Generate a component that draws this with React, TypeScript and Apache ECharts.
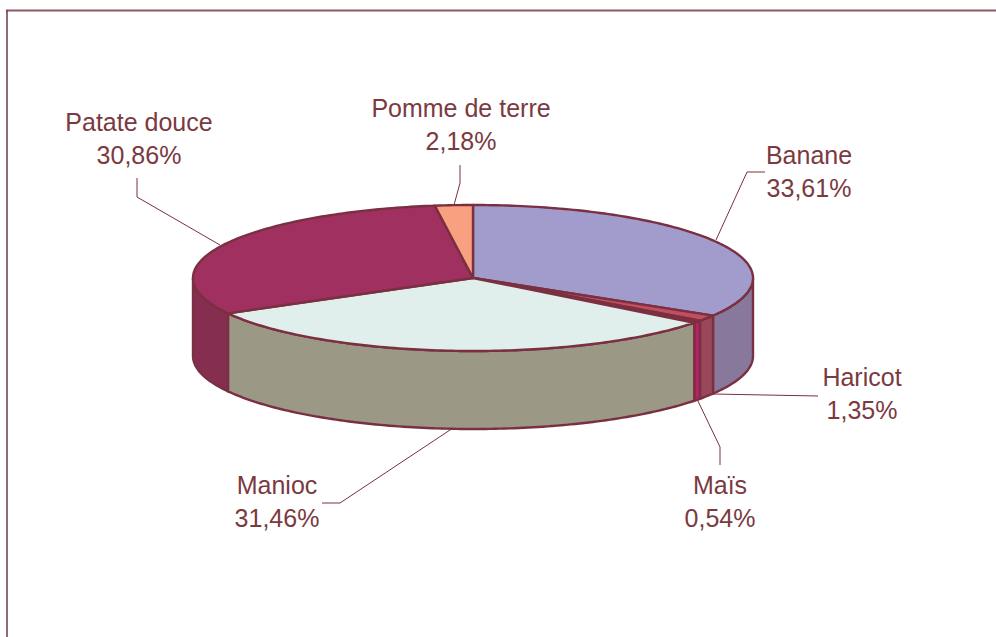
import React, { useEffect, useRef } from "react";
import * as echarts from "echarts";

const categories = ["Banane", "Haricot", "Maïs", "Manioc", "Patate douce", "Pomme de terre"];
const shares = [33.61, 1.35, 0.54, 31.46, 30.86, 2.18];
const topColors = ["#a29ccc", "#c0505f", "#a8205f", "#e0efec", "#a03060", "#f8a080"];
const sideColors = ["#88789c", "#98485a", "#b8206a", "#9c9886", "#862e50", "#c08468"];

// Layout of the labels and their leader lines, one entry per category
const labelCenters = [[809, 171], [862, 393], [720, 501], [277, 501], [139, 138], [461, 124]];
const leaderLines = [
  [[716, 240], [747, 172], [765, 172]],
  [[713, 394], [818, 396]],
  [[697, 399], [720, 447], [720, 465]],
  [[453, 428], [340, 503], [322, 503]],
  [[220, 245], [137, 197], [137, 178]],
  [[454, 205], [460, 183], [460, 165]],
];

const CX = 473, CY = 278, RX = 280, RY = 73, DEPTH = 78;
const EDGE = "#7a3040";
const TEXT = "#7a3a40";
const STEP = 1;

const pt = (deg: number, dy = 0) => {
  const r = (deg * Math.PI) / 180;
  return [CX + RX * Math.sin(r), CY - RY * Math.cos(r) + dy];
};

const arc = (a: number, b: number, dy = 0) => {
  const out: number[][] = [];
  const n = Math.max(1, Math.ceil((b - a) / STEP));
  for (let i = 0; i <= n; i++) out.push(pt(a + ((b - a) * i) / n, dy));
  return out;
};

let acc = 0;
const seriesData = shares.map((v, i) => {
  const start = acc;
  acc += v;
  return { name: categories[i], value: [v, start] };
});

const renderItem = (params: any, api: any) => {
  const i = params.dataIndex;
  const total = shares.reduce((s, x) => s + x, 0);
  const a0 = (api.value(1) / total) * 360;
  const a1 = a0 + (api.value(0) / total) * 360;
  const children: any[] = [];

  const faces: number[][] = [];
  if (a0 < 270 && a1 > 90) faces.push([Math.max(a0, 90), Math.min(a1, 270)]);
  faces.forEach(([s, e]) => {
    const points = [...arc(s, e), ...arc(s, e, DEPTH).reverse()];
    children.push({
      type: "polygon",
      shape: { points },
      style: { fill: sideColors[i], stroke: EDGE, lineWidth: 2.4, lineJoin: "round" },
    });
  });

  children.push({
    type: "polygon",
    shape: { points: [[CX, CY], ...arc(a0, a1)] },
    style: { fill: topColors[i], stroke: EDGE, lineWidth: 2.4, lineJoin: "round" },
  });

  children.push({
    type: "polyline",
    shape: { points: leaderLines[i] },
    style: { fill: "none", stroke: EDGE, lineWidth: 1 },
  });

  const pct = Number(api.value(0)).toFixed(2).replace(".", ",");
  children.push({
    type: "text",
    x: labelCenters[i][0],
    y: labelCenters[i][1],
    style: {
      text: `${categories[i]}\n${pct}%`,
      fill: TEXT,
      font: '25px "Liberation Sans", Arial, sans-serif',
      lineHeight: 33,
      align: "center",
      verticalAlign: "middle",
    },
  });

  return { type: "group", children };
};

export default function App() {
  const ref = useRef<HTMLDivElement>(null);
  useEffect(() => {
    const chart = echarts.init(ref.current!, null, { renderer: "svg" });
    chart.setOption({
      animation: false,
      backgroundColor: "#ffffff",
      graphic: [
        { type: "line", shape: { x1: 6, y1: 10.5, x2: 996, y2: 10.5 }, style: { stroke: "#8e5a62", lineWidth: 2 } },
        { type: "line", shape: { x1: 7, y1: 10, x2: 7, y2: 637 }, style: { stroke: "#6e3a42", lineWidth: 1.5 } },
      ],
      series: [
        {
          type: "custom",
          coordinateSystem: "none",
          renderItem,
          data: seriesData,
          silent: true,
        },
      ],
    });
    return () => chart.dispose();
  }, []);
  return <div ref={ref} style={{ position: "fixed", left: 0, top: 0, width: 996, height: 637 }} />;
}
